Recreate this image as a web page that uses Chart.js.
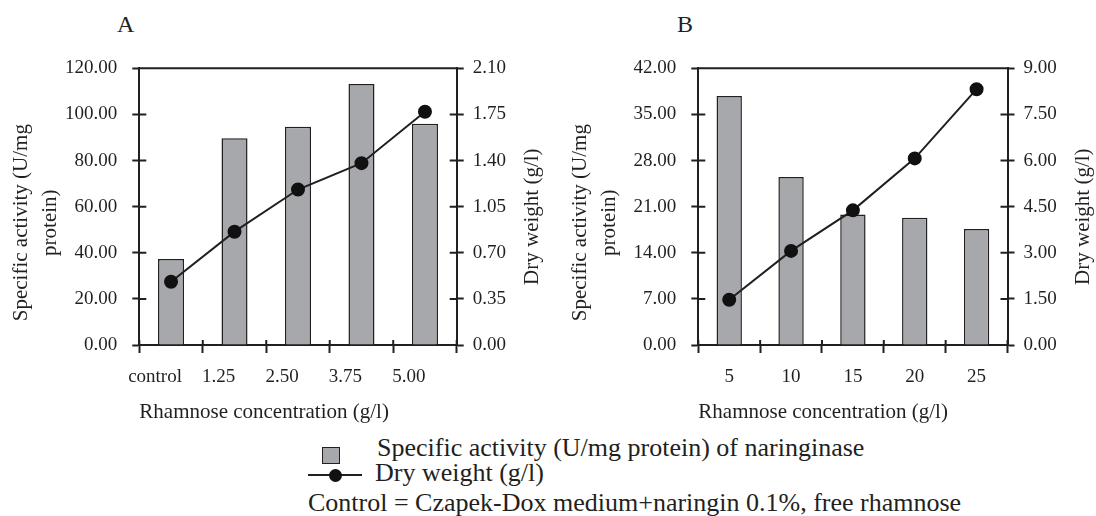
<!DOCTYPE html>
<html>
<head>
<meta charset="utf-8">
<script src="https://cdn.jsdelivr.net/npm/chart.js@4.4.1/dist/chart.umd.min.js"></script>
<style>
  body { margin: 0; width: 1096px; height: 516px; background: #fff; overflow: hidden; position: relative;
         font-family: "Liberation Serif", "Times New Roman", serif; color: #231f20; }
  canvas { position: absolute; top: 0; }
  .txt { position: absolute; line-height: 1; white-space: nowrap; }
  .panel { font-size: 24px; top: 12px; }
  .legend { font-size: 26px; }
  #swatch { position: absolute; left: 322px; top: 447px; width: 16px; height: 15px; background: #a6a8ab; border: 1.5px solid #231f20; }
  #lineKey { position: absolute; left: 308px; top: 474px; width: 54px; height: 2px; background: #231f20; }
  #dotKey { position: absolute; left: 329px; top: 468.5px; width: 13px; height: 13px; border-radius: 50%; background: #111; }
</style>
</head>
<body>
<div class="txt panel" style="left:117px">A</div>
<div class="txt panel" style="left:677px">B</div>
<canvas id="chartA" width="548" height="430" style="left:0"></canvas>
<canvas id="chartB" width="533" height="430" style="left:563px"></canvas>

<div id="swatch"></div>
<div class="txt legend" style="left:377px; top:435px">Specific activity (U/mg protein) of naringinase</div>
<div id="lineKey"></div><div id="dotKey"></div>
<div class="txt legend" style="left:375px; top:460px">Dry weight (g/l)</div>
<div class="txt legend" style="left:308px; top:490px">Control = Czapek-Dox medium+naringin 0.1%, free rhamnose</div>

<script>
// panel A : rhamnose 0 - 5 g/l
const categoriesA = ['control', '1.25', '2.50', '3.75', '5.00'];
const activityA = [37.3, 89.7, 94.6, 113.2, 96.0];
const dryWeightA = [0.48, 0.86, 1.18, 1.38, 1.77];
const activityAxisA = [0, 120, 20];   // min, max, step
const dryAxisA = [0, 2.1, 0.35];

// panel B : rhamnose 5 - 25 g/l
const categoriesB = ['5', '10', '15', '20', '25'];
const activityB = [37.8, 25.5, 19.8, 19.3, 17.6];
const dryWeightB = [1.47, 3.06, 4.38, 6.07, 8.32];
const activityAxisB = [0, 42, 7];
const dryAxisB = [0, 9, 1.5];

const activityTitle = ['Specific activity (U/mg', 'protein)'];
const dryTitle = 'Dry weight (g/l)';
const xTitle = 'Rhamnose concentration (g/l)';

const INK = '#231f20';
const BAR = '#a6a8ab';
const tickFont = { family: 'Liberation Serif', size: 19 };
const titleFont = { family: 'Liberation Serif', size: 21, lineHeight: 1.35 };

// rotated text, reading bottom to top, one line per entry
function sideText(ctx, lines, x, y, lh) {
  ctx.save();
  ctx.translate(x, y);
  ctx.rotate(-Math.PI / 2);
  lines.forEach((l, i) => ctx.fillText(l, 0, i * lh));
  ctx.restore();
}

// top frame line, inner half of the ticks, and both side titles
const frameTicks = {
  id: 'frameTicks',
  afterDraw(chart, args, opts) {
    const { ctx, chartArea: a, scales } = chart;
    ctx.save();
    ctx.strokeStyle = INK;
    ctx.lineWidth = 2;
    ctx.beginPath();
    ctx.moveTo(a.left, a.top);
    ctx.lineTo(a.right, a.top);
    scales.y.ticks.forEach((t, i) => {
      const y = scales.y.getPixelForTick(i);
      ctx.moveTo(a.left, y); ctx.lineTo(a.left + 7, y);
    });
    scales.y1.ticks.forEach((t, i) => {
      const y = scales.y1.getPixelForTick(i);
      ctx.moveTo(a.right - 7, y); ctx.lineTo(a.right, y);
    });
    for (let i = 0; i <= scales.x.ticks.length; i++) {
      const x = scales.x.getPixelForValue(i - 0.5);
      ctx.moveTo(x, a.bottom); ctx.lineTo(x, a.bottom - 5);
    }
    ctx.stroke();

    ctx.fillStyle = INK;
    ctx.font = '21px "Liberation Serif"';
    ctx.textAlign = 'center';
    ctx.textBaseline = 'middle';
    const mid = (a.top + a.bottom) / 2;
    sideText(ctx, opts.left, a.left - opts.leftGap, mid + opts.leftShift, 28.4);
    sideText(ctx, [opts.right], a.right + opts.rightGap, mid + opts.rightShift, 28.4);
    ctx.restore();
  }
};

function makeChart(id, cats, activity, dry, actAxis, dryAxis, leftW, rightW, labelShift) {
  return new Chart(document.getElementById(id), {
    type: 'bar',
    data: {
      labels: cats,
      datasets: [
        {
          type: 'line', data: dry, yAxisID: 'y1', order: 0,
          borderColor: INK, borderWidth: 2,
          pointRadius: 6, pointBackgroundColor: '#111', pointBorderColor: '#111'
        },
        {
          type: 'bar', data: activity, yAxisID: 'y', order: 1,
          backgroundColor: BAR, borderColor: INK, borderWidth: 1.5,
          barPercentage: 0.41, categoryPercentage: 1
        }
      ]
    },
    options: {
      responsive: false,
      animation: false,
      layout: { padding: { top: 68.3, left: 0, right: 0, bottom: 0 } },
      plugins: {
        legend: { display: false },
        tooltip: { enabled: false },
        frameTicks: {
          left: activityTitle, leftGap: 117.6, leftShift: 16,
          right: dryTitle, rightGap: 76, rightShift: 10
        }
      },
      scales: {
        x: {
          grid: { offset: true, drawOnChartArea: false, tickLength: 8, tickColor: INK, tickWidth: 2 },
          border: { color: INK, width: 2 },
          ticks: { color: INK, font: tickFont, padding: 13, labelOffset: labelShift, maxRotation: 0, autoSkip: false },
          title: { display: true, text: xTitle, align: 'start', color: INK, font: titleFont, padding: { top: 0, bottom: 3 } },
          afterFit: s => { s.height = 85; }
        },
        y: {
          position: 'left',
          min: actAxis[0], max: actAxis[1],
          grid: { drawOnChartArea: false, tickLength: 7, tickColor: INK, tickWidth: 2 },
          border: { color: INK, width: 2 },
          ticks: { stepSize: actAxis[2], color: INK, font: tickFont, padding: 15, callback: v => v.toFixed(2) },
          afterFit: s => { s.width = leftW; }
        },
        y1: {
          position: 'right',
          min: dryAxis[0], max: dryAxis[1],
          grid: { drawOnChartArea: false, tickLength: 7, tickColor: INK, tickWidth: 2 },
          border: { color: INK, width: 2 },
          ticks: { stepSize: dryAxis[2], color: INK, font: tickFont, padding: 9, callback: v => v.toFixed(2) },
          afterFit: s => { s.width = rightW; }
        }
      }
    },
    plugins: [frameTicks]
  });
}

makeChart('chartA', categoriesA, activityA, dryWeightA, activityAxisA, dryAxisA, 139.3, 91.3, -16);
makeChart('chartB', categoriesB, activityB, dryWeightB, activityAxisB, dryAxisB, 135.3, 88.5, 0);
</script>
</body>
</html>
